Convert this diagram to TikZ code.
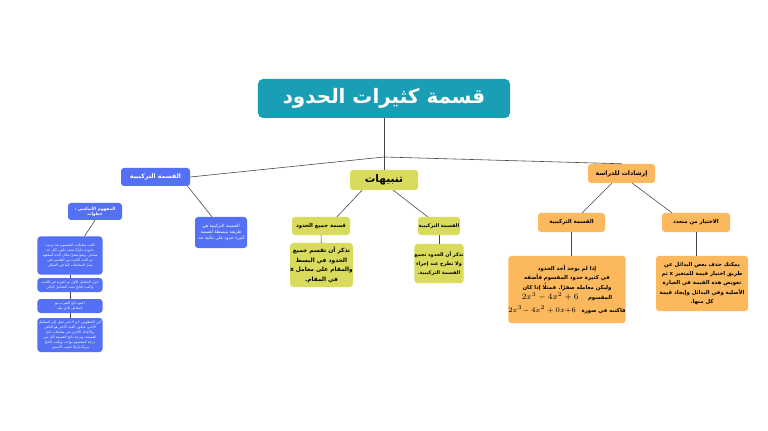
\documentclass[tikz,border=0pt]{standalone}
\usepackage{fontspec}
\usepackage{amsmath}
\usepackage{tikz}
\usetikzlibrary{positioning,calc}
\TeXXeTstate=1
\newfontfamily\arabicfont[Script=Arabic]{DejaVu Sans}
\newcommand{\ar}[1]{{\arabicfont\beginR #1\endR}}
\definecolor{tealbox}{RGB}{26,158,181}
\definecolor{bluebox}{RGB}{84,112,245}
\definecolor{yellowbox}{RGB}{216,219,92}
\definecolor{orangebox}{RGB}{251,184,92}
\definecolor{linkgray}{RGB}{70,70,70}

\begin{document}
\begin{tikzpicture}[x=0.03cm,y=-0.03cm,
  box/.style={rounded corners=0.09cm,inner sep=0pt,align=center},
  bluenode/.style={box,fill=bluebox,text=white},
  yellownode/.style={box,fill=yellowbox,text=black},
  orangenode/.style={box,fill=orangebox,text=black},
  link/.style={draw=linkgray,line width=0.5pt}]
  \useasboundingbox[fill=white](0,0) rectangle (768,431);
  % title and first level
  \node[box,fill=tealbox,text=white,rounded corners=0.15cm,minimum width=7.56cm,minimum height=1.17cm,font=\fontsize{17}{19}\selectfont\bfseries] (title) at (384,98.5){\ar{قسمة كثيرات الحدود}};
  \node[bluenode,minimum width=2.07cm,minimum height=0.54cm,font=\fontsize{5.3}{6}\selectfont\bfseries] (synth) at (155.5,177){\ar{القسمة التركيبية}};
  \node[yellownode,minimum width=2.04cm,minimum height=0.6cm,font=\fontsize{9}{10}\selectfont\bfseries] (notes) at (384,180){\ar{تنبيهات}};
  \node[orangenode,minimum width=2.01cm,minimum height=0.57cm,font=\fontsize{5.3}{6}\selectfont\bfseries] (tips) at (621.5,173.5){\ar{إرشادات للدراسة}};
  \coordinate (hub) at (384,157);
  \draw[link](title.south)--(hub);
  \draw[link](hub)--(synth.east); \draw[link](hub)--(notes.north); \draw[link](hub)--(tips.north);
  % blue branch
  \node[bluenode,minimum width=1.62cm,minimum height=0.51cm,font=\fontsize{3.6}{4.6}\selectfont\bfseries] (concept) at (95,211.5){\ar{المفهوم الأساسي :}\\\ar{خطوات}};
  \node[bluenode,minimum width=1.56cm,minimum height=0.93cm,font=\fontsize{3.8}{5}\selectfont] (define) at (221,232.5){\ar{القسمة التركيبية هي}\\\ar{طريقة مبسطة لقسمة}\\\ar{كثيرة حدود على ثنائية حد.}};
  \node[bluenode,minimum width=1.95cm,minimum height=1.14cm,font=\fontsize{3}{4.2}\selectfont] (stepa) at (70,255.5){\ar{اكتب معاملات المقسوم بعد ترتيب}\\\ar{حدوده تنازليًا بحيث يكون لكل حد}\\\ar{معامل، وضع صفرًا مكان الحد المفقود}\\\ar{ثم اكتب الثابت من القاسم على}\\\ar{يسار المعاملات كما في الشكل.}};
  \node[bluenode,minimum width=1.95cm,minimum height=0.42cm,font=\fontsize{3}{4.2}\selectfont] (stepb) at (70,285){\ar{انزل المعامل الأول ثم اضربه في الثابت}\\\ar{واكتب الناتج تحت المعامل التالي}};
  \node[bluenode,minimum width=1.95cm,minimum height=0.42cm,font=\fontsize{3}{4.2}\selectfont] (stepc) at (70,306){\ar{اجمع ناتج الضرب مع}\\\ar{المعامل الذي يليه}};
  \node[bluenode,minimum width=1.95cm,minimum height=1.02cm,font=\fontsize{3}{4.2}\selectfont] (stepd) at (70,335){\ar{كرر الخطوتين ٢ و ٣ حتى تصل إلى المعامل}\\\ar{الأخير، فيكون العدد الأخير هو الباقي}\\\ar{والأعداد الأخرى هي معاملات ناتج}\\\ar{القسمة، ودرجة ناتج القسمة أقل من}\\\ar{درجة المقسوم بواحد، ويكتب الناتج}\\\ar{مرتبًا تنازليًا حسب الأسس.}};
  \draw[link](synth.-16)--(define.120);
  \draw[link](concept.south)--(stepa.53);
  \draw[link](stepa)--(stepb); \draw[link](stepb)--(stepc); \draw[link](stepc)--(stepd);
  % yellow branch
  \node[yellownode,minimum width=1.74cm,minimum height=0.54cm,font=\fontsize{4.6}{6}\selectfont\bfseries] (allterms) at (321,226){\ar{قسمة جميع الحدود}};
  \node[yellownode,minimum width=1.26cm,minimum height=0.54cm,font=\fontsize{4.2}{6}\selectfont\bfseries] (synthy) at (439,226){\ar{القسمة التركيبية}};
  \node[yellownode,minimum width=1.71cm,minimum height=1.32cm,font=\fontsize{5}{8.2}\selectfont\bfseries] (remind) at (321.5,265){\ar{تذكر أن تقسم جميع}\\\ar{الحدود في البسط}\\\ar{والمقام على معامل x}\\\ar{في المقام.}};
  \node[yellownode,minimum width=1.26cm,minimum height=1.17cm,font=\fontsize{4.2}{7.8}\selectfont\bfseries] (addnot) at (439,263.5){\ar{تذكر أن الحدود تجمع}\\\ar{ولا تطرح عند إجراء}\\\ar{القسمة التركيبية.}};
  \draw[link](notes.205)--(allterms.30); \draw[link](notes.-48)--(synthy.141);
  \draw[link](allterms)--(remind); \draw[link](synthy)--(addnot);
  % orange branch
  \node[orangenode,minimum width=2.01cm,minimum height=0.57cm,font=\fontsize{4.6}{6}\selectfont\bfseries] (synthp) at (571.5,222.5){\ar{القسمة التركيبية}};
  \node[orangenode,minimum width=2.04cm,minimum height=0.57cm,font=\fontsize{4.6}{6}\selectfont\bfseries] (choice) at (696,222.5){\ar{الاختيار من متعدد}};
  \node[orangenode,minimum width=3.24cm,minimum height=2.01cm,font=\fontsize{4.6}{8}\selectfont\bfseries] (zero) at (567,289.5){\ar{إذا لم يوجد أحد الحدود}\\\ar{في كثيرة حدود المقسوم فأضفه}\\\ar{وليكن معامله صفرًا. فمثلًا إذا كان}\\[1pt]{\mdseries\fontsize{7}{8}\selectfont$2x^3-4x^2+6$}\hspace{8pt}\ar{المقسوم}\\[3pt]{\mdseries\fontsize{6.5}{8}\selectfont$2x^3\!-4x^2+0x{+}6$}\hspace{5pt}\ar{فاكتبه في صورة}};
  \node[orangenode,minimum width=2.76cm,minimum height=1.65cm,font=\fontsize{4.6}{8}\selectfont\bfseries] (plug) at (702,283.5){\ar{يمكنك حذف بعض البدائل عن}\\\ar{طريق اختيار قيمة للمتغير x ثم}\\\ar{تعويض هذه القيمة في العبارة}\\\ar{الأصلية وفي البدائل وإيجاد قيمة}\\\ar{كل منها.}};
  \draw[link](tips.225)--(synthp.42); \draw[link](tips.-42)--(choice.158);
  \draw[link](synthp.south)--(synthp.south |- zero.north);
  \draw[link](choice.south)--(choice.south |- plug.north);
\end{tikzpicture}
\end{document}
